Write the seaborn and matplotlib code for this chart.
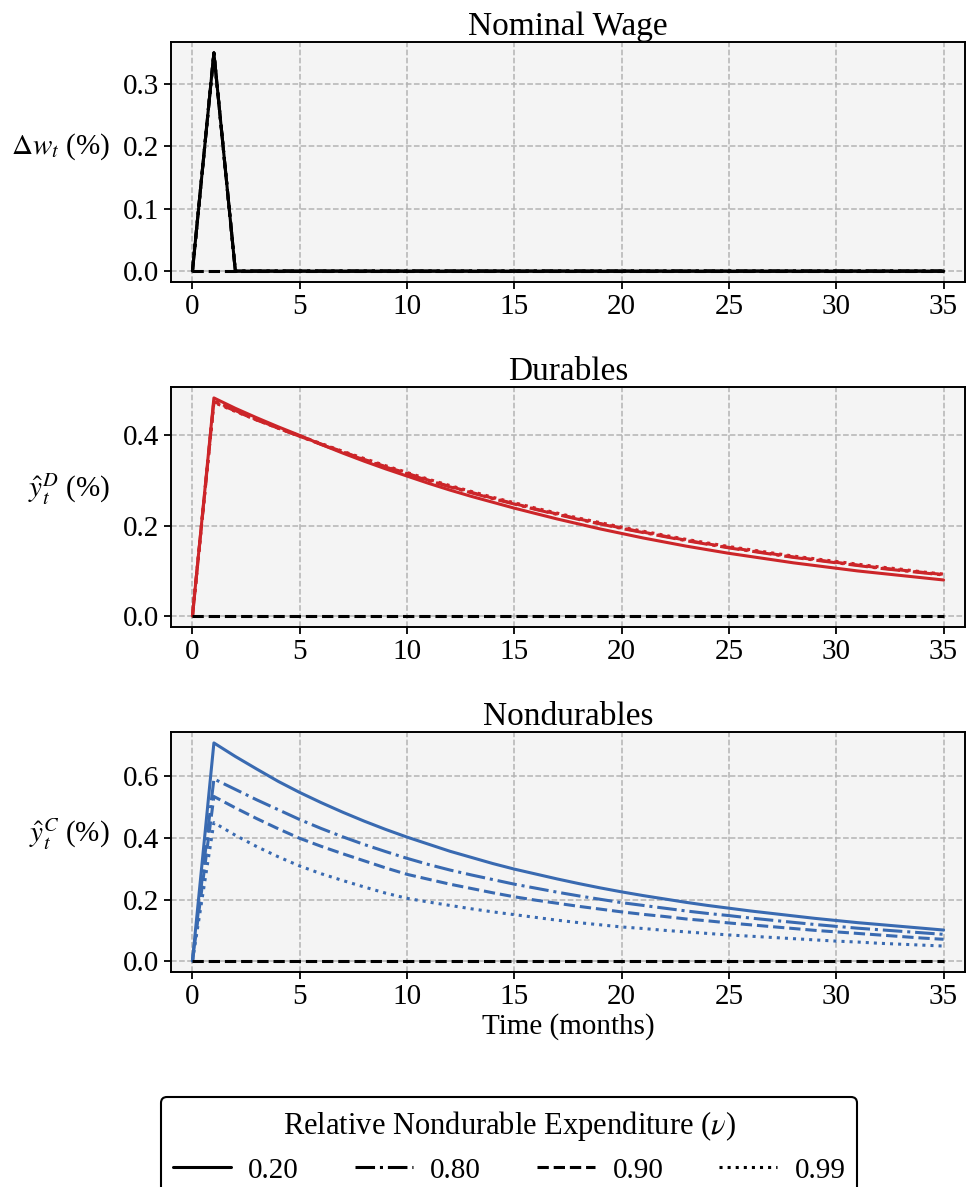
import matplotlib
matplotlib.use("Agg")
import pandas as pd
import matplotlib.pyplot as plt
from matplotlib.lines import Line2D
from matplotlib.ticker import FormatStrFormatter
import seaborn as sns

# ---- data ------------------------------------------------------------------
months = list(range(36))
nu_labels = ["0.20", "0.80", "0.90", "0.99"]

steady_state = [0.0, 0.0, 0.0, 0.0, 0.0, 0.0, 0.0, 0.0, 0.0, 0.0, 0.0, 0.0,
                0.0, 0.0, 0.0, 0.0, 0.0, 0.0, 0.0, 0.0, 0.0, 0.0, 0.0, 0.0,
                0.0, 0.0, 0.0, 0.0, 0.0, 0.0, 0.0, 0.0, 0.0, 0.0, 0.0, 0.0]

wage = [0.0, 0.35, 0.0, 0.0, 0.0, 0.0, 0.0, 0.0, 0.0, 0.0, 0.0, 0.0,
        0.0, 0.0, 0.0, 0.0, 0.0, 0.0, 0.0, 0.0, 0.0, 0.0, 0.0, 0.0,
        0.0, 0.0, 0.0, 0.0, 0.0, 0.0, 0.0, 0.0, 0.0, 0.0, 0.0, 0.0]

dur_020 = [0.000, 0.483, 0.460, 0.439, 0.419, 0.400, 0.380, 0.361, 0.343, 0.326,
           0.310, 0.294, 0.279, 0.265, 0.252, 0.239, 0.227, 0.215, 0.204, 0.193,
           0.183, 0.173, 0.164, 0.155, 0.147, 0.139, 0.132, 0.125, 0.118, 0.112,
           0.106, 0.100, 0.095, 0.090, 0.085, 0.080]
dur_080 = [0.000, 0.477, 0.455, 0.435, 0.416, 0.398, 0.380, 0.363, 0.346, 0.330,
           0.315, 0.300, 0.286, 0.273, 0.260, 0.248, 0.236, 0.225, 0.214, 0.204,
           0.194, 0.185, 0.176, 0.167, 0.159, 0.151, 0.144, 0.137, 0.130, 0.124,
           0.118, 0.112, 0.106, 0.101, 0.096, 0.091]
dur_090 = [0.000, 0.475, 0.454, 0.434, 0.416, 0.398, 0.381, 0.364, 0.347, 0.331,
           0.316, 0.301, 0.287, 0.274, 0.261, 0.249, 0.237, 0.226, 0.215, 0.205,
           0.195, 0.186, 0.177, 0.168, 0.160, 0.152, 0.145, 0.138, 0.131, 0.125,
           0.119, 0.113, 0.107, 0.102, 0.097, 0.092]
dur_099 = [0.000, 0.473, 0.453, 0.434, 0.416, 0.399, 0.382, 0.365, 0.349, 0.333,
           0.318, 0.303, 0.289, 0.276, 0.263, 0.251, 0.239, 0.228, 0.217, 0.207,
           0.197, 0.188, 0.179, 0.170, 0.162, 0.154, 0.147, 0.140, 0.133, 0.127,
           0.121, 0.115, 0.109, 0.104, 0.098, 0.093]

nondur_020 = [0.000, 0.709, 0.665, 0.624, 0.584, 0.548, 0.515, 0.484, 0.455, 0.428,
              0.403, 0.380, 0.357, 0.337, 0.317, 0.299, 0.283, 0.267, 0.252, 0.238,
              0.225, 0.213, 0.202, 0.191, 0.181, 0.172, 0.163, 0.155, 0.147, 0.139,
              0.132, 0.125, 0.119, 0.113, 0.107, 0.101]
nondur_080 = [0.000, 0.592, 0.558, 0.524, 0.492, 0.460, 0.431, 0.404, 0.379, 0.356,
              0.334, 0.314, 0.296, 0.280, 0.265, 0.250, 0.237, 0.224, 0.212, 0.201,
              0.190, 0.181, 0.172, 0.163, 0.155, 0.148, 0.140, 0.133, 0.126, 0.119,
              0.113, 0.107, 0.102, 0.097, 0.092, 0.087]
nondur_090 = [0.000, 0.535, 0.498, 0.463, 0.430, 0.399, 0.373, 0.349, 0.326, 0.303,
              0.282, 0.266, 0.250, 0.236, 0.222, 0.209, 0.198, 0.188, 0.178, 0.169,
              0.160, 0.152, 0.145, 0.137, 0.131, 0.124, 0.118, 0.112, 0.106, 0.100,
              0.095, 0.090, 0.085, 0.080, 0.075, 0.071]
nondur_099 = [0.000, 0.450, 0.409, 0.372, 0.339, 0.309, 0.284, 0.262, 0.241, 0.221,
              0.204, 0.192, 0.181, 0.170, 0.160, 0.151, 0.142, 0.133, 0.125, 0.118,
              0.111, 0.106, 0.100, 0.095, 0.090, 0.085, 0.081, 0.077, 0.073, 0.069,
              0.065, 0.062, 0.058, 0.055, 0.052, 0.049]

panels = [
    ("Nominal Wage", r"$\Delta w_t$ (%)", "black",
     [wage, wage, wage, wage], [0.0, 0.1, 0.2, 0.3]),
    ("Durables", r"$\hat{y}_t^D$ (%)", "#CC2529",
     [dur_020, dur_080, dur_090, dur_099], [0.0, 0.2, 0.4]),
    ("Nondurables", r"$\hat{y}_t^C$ (%)", "#396AB1",
     [nondur_020, nondur_080, nondur_090, nondur_099], [0.0, 0.2, 0.4, 0.6]),
]

dash_map = {"0.20": "", "0.80": (6.4, 1.6, 1, 1.6),
            "0.90": (3.7, 1.6), "0.99": (1, 1.65)}
lw = 2.2

# ---- style -----------------------------------------------------------------
sns.set_theme(style="ticks", rc={
    "axes.facecolor": "#f4f4f4",
    "axes.edgecolor": "black",
    "axes.linewidth": 1.4,
    "axes.grid": True,
    "grid.color": "#b3b3b3",
    "grid.linestyle": "--",
    "grid.linewidth": 1.1,
    "xtick.major.size": 5,
    "ytick.major.size": 5,
    "xtick.major.width": 1.3,
    "ytick.major.width": 1.3,
    "xtick.color": "black",
    "ytick.color": "black",
    "text.color": "black",
    "axes.labelcolor": "black",
    "xtick.labelsize": 21,
    "ytick.labelsize": 21,
    "axes.titlesize": 24,
    "axes.labelsize": 21,
})
plt.rcParams["font.family"] = ["Liberation Serif", "DejaVu Serif"]
plt.rcParams["mathtext.fontset"] = "stix"

fig, axes = plt.subplots(3, 1, figsize=(9.66, 11.87), dpi=100)
fig.subplots_adjust(left=0.177, right=0.999, top=0.9646, bottom=0.1811,
                    hspace=0.4375)

for ax, (title, ylab, color, series, yticks) in zip(axes, panels):
    frames = []
    for nu, vals in zip(nu_labels, series):
        frames.append(pd.DataFrame({"month": months, "value": vals, "nu": nu}))
    df = pd.concat(frames, ignore_index=True)

    sns.lineplot(data=df, x="month", y="value", style="nu",
                 style_order=nu_labels, dashes=dash_map, color=color,
                 linewidth=lw, legend=False, ax=ax)
    ax.plot(months, steady_state, color="black", linestyle="--",
            linewidth=lw, zorder=3)

    ax.set_title(title, color="black", pad=5)
    ax.set_xlim(-1, 36)
    ax.set_xticks(range(0, 36, 5))
    ax.set_yticks(yticks)
    ax.yaxis.set_major_formatter(FormatStrFormatter("%.1f"))
    ax.set_xlabel("")
    ax.set_ylabel(ylab, rotation=0, ha="right", va="bottom")
    ax.yaxis.set_label_coords(-0.077, 0.5)
    ax.set_axisbelow(True)

axes[-1].set_xlabel("Time (months)", labelpad=2)

handles = [Line2D([0], [0], color="black", linewidth=lw,
                  linestyle=(0, dash_map[nu]) if dash_map[nu] else "-")
           for nu in nu_labels]
leg = fig.legend(handles, nu_labels, loc="upper center",
                 bbox_to_anchor=(0.527, 0.0758), borderaxespad=0, ncol=4,
                 title=r"Relative Nondurable Expenditure ($\nu$)",
                 fontsize=21, title_fontsize=22, frameon=True, fancybox=True,
                 facecolor="white", edgecolor="black", framealpha=1,
                 handlelength=2.0, handletextpad=0.6, columnspacing=1.9,
                 borderpad=0.4)
leg.get_frame().set_linewidth(1.5)

fig.savefig("out.png", dpi=100)
